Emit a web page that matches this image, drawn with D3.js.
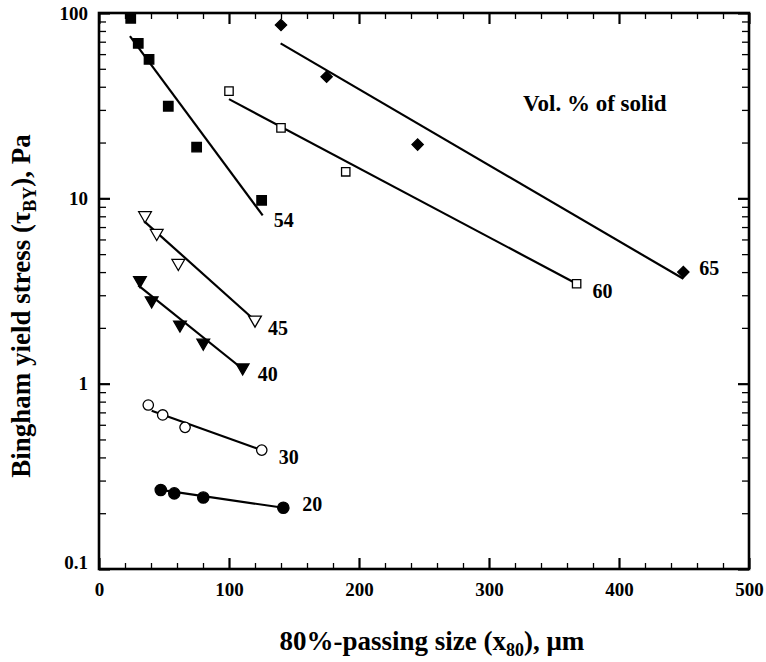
<!DOCTYPE html>
<html>
<head>
<meta charset="utf-8">
<script src="https://cdn.jsdelivr.net/npm/d3@7"></script>
<style>
  html, body { margin: 0; padding: 0; background: #fff; }
  svg { display: block; }
  text { font-family: "Liberation Serif", "Times New Roman", Times, serif; font-weight: bold; fill: #000; }
</style>
</head>
<body>
<svg id="chart" width="766" height="662"></svg>
<script>
// Bingham yield stress vs. 80%-passing size, one series per solids concentration (vol. %)
const xTickValues = [0, 100, 200, 300, 400, 500];
const yTickValues = [0.1, 1, 10, 100];
const yTickLabels = ["0.1", "1", "10", "100"];

const solids = ["20", "30", "40", "45", "54", "60", "65"];
const markers = ["circleFilled", "circleOpen", "triDownFilled", "triDownOpen", "squareFilled", "squareOpen", "diamondFilled"];

// measured points: x80 (µm) and yield stress (Pa)
const x20 = [47.5, 57.9, 80.2, 141.8];
const y20 = [0.267, 0.256, 0.243, 0.214];
const x30 = [37.9, 49.0, 66.2, 125.2];
const y30 = [0.767, 0.678, 0.581, 0.438];
const x40 = [31.5, 40.5, 62.3, 80.2, 110.5];
const y40 = [3.61, 2.81, 2.08, 1.66, 1.22];
const x45 = [35.4, 44.4, 61.0, 120.0];
const y45 = [8.09, 6.49, 4.47, 2.21];
const x54 = [24.4, 30.2, 38.5, 53.3, 75.1, 125.1];
const y54 = [93.6, 68.6, 56.2, 31.4, 18.9, 9.76];
const x60 = [100, 140, 189.8, 367.4];
const y60 = [37.9, 24.0, 13.9, 3.46];
const x65 = [140, 175.1, 245.1, 449.5];
const y65 = [86.1, 45.3, 19.5, 4.0];

// power-law fit lines: [x start, x end] and [y start, y end]
const fitX = [[47.5, 141.8], [40.5, 125.2], [30.2, 110.5], [34.6, 118.5], [23.8, 125.9], [100, 367.4], [139.7, 449.5]];
const fitY = [[0.267, 0.214], [0.714, 0.438], [3.39, 1.20], [7.54, 2.24], [75.1, 8.09], [34.3, 3.46], [68.6, 3.68]];

const xs = [x20, x30, x40, x45, x54, x60, x65];
const ys = [y20, y30, y40, y45, y54, y60, y65];

const svg = d3.select("#chart");
const margin = { left: 99, right: 17, top: 13, bottom: 93 };
const W = 766, H = 662;
const iw = W - margin.left - margin.right;
const ih = H - margin.top - margin.bottom;

const x = d3.scaleLinear().domain([0, 500]).range([0, iw]);
const y = d3.scaleLog().domain([0.1, 100]).range([ih, 0]);

const g = svg.append("g").attr("transform", `translate(${margin.left},${margin.top})`);

// minor ticks
const xMinor = d3.range(0, 501, 20).filter(v => v % 100 !== 0);
const yMinor = y.ticks().filter(v => !yTickValues.some(t => Math.abs(t - v) < 1e-9));

function styleAxis(sel) {
  sel.select(".domain").remove();
  sel.selectAll("line").attr("stroke", "#000").attr("stroke-width", 1.3);
}

// bottom axis (inward ticks)
g.append("g").attr("transform", `translate(0,${ih})`)
  .call(d3.axisBottom(x).tickValues(xMinor).tickSize(-6).tickFormat(""))
  .call(styleAxis);
const xb = g.append("g").attr("transform", `translate(0,${ih})`)
  .call(d3.axisBottom(x).tickValues(xTickValues).tickSizeInner(-11).tickSizeOuter(0).tickPadding(25).tickFormat(d3.format("d")))
  .call(styleAxis);
xb.selectAll("line").attr("stroke-width", 2.2);
xb.selectAll("text").attr("font-size", 19).attr("dy", "0.1em");

// top axis
g.append("g")
  .call(d3.axisTop(x).tickValues(xMinor).tickSize(-6).tickFormat(""))
  .call(styleAxis);
g.append("g")
  .call(d3.axisTop(x).tickValues(xTickValues).tickSize(-11).tickFormat(""))
  .call(styleAxis)
  .selectAll("line").attr("stroke-width", 2.2);

// left axis
g.append("g")
  .call(d3.axisLeft(y).tickValues(yMinor).tickSize(-7).tickFormat(""))
  .call(styleAxis);
const yl = g.append("g")
  .call(d3.axisLeft(y).tickValues(yTickValues).tickSizeInner(-11).tickSizeOuter(0).tickPadding(11)
    .tickFormat((d, i) => yTickLabels[i]))
  .call(styleAxis);
yl.selectAll("line").attr("stroke-width", 2.2);
yl.selectAll("text").attr("font-size", 19)
  .attr("dy", (d, i) => i === 0 ? "-0.05em" : "0.32em");

// right axis
g.append("g").attr("transform", `translate(${iw},0)`)
  .call(d3.axisRight(y).tickValues(yMinor).tickSize(-7).tickFormat(""))
  .call(styleAxis);
g.append("g").attr("transform", `translate(${iw},0)`)
  .call(d3.axisRight(y).tickValues(yTickValues).tickSize(-11).tickFormat(""))
  .call(styleAxis)
  .selectAll("line").attr("stroke-width", 2.2);

// frame
g.append("rect").attr("x", 0).attr("y", 0).attr("width", iw).attr("height", ih)
  .attr("fill", "none").attr("stroke", "#000").attr("stroke-width", 2.6);

// fit lines
solids.forEach((s, i) => {
  g.append("line")
    .attr("x1", x(fitX[i][0])).attr("y1", y(fitY[i][0]))
    .attr("x2", x(fitX[i][1])).attr("y2", y(fitY[i][1]))
    .attr("stroke", "#000").attr("stroke-width", 2.2);
});

// markers
const sym = {
  circleFilled:  { type: d3.symbolCircle,   size: 100, fill: "#000", rot: 0 },
  circleOpen:    { type: d3.symbolCircle,   size: 85,  fill: "#fff", rot: 0 },
  triDownFilled: { type: d3.symbolTriangle, size: 70,  fill: "#000", rot: 180 },
  triDownOpen:   { type: d3.symbolTriangle, size: 70,  fill: "#fff", rot: 180 },
  squareFilled:  { type: d3.symbolSquare,   size: 90,  fill: "#000", rot: 0 },
  squareOpen:    { type: d3.symbolSquare,   size: 70,  fill: "#fff", rot: 0 },
  diamondFilled: { type: d3.symbolSquare,   size: 64,  fill: "#000", rot: 45 }
};

solids.forEach((s, i) => {
  const m = sym[markers[i]];
  const pts = xs[i].map((v, j) => [v, ys[i][j]]);
  g.append("g").selectAll("path").data(pts).join("path")
    .attr("d", d3.symbol().type(m.type).size(m.size))
    .attr("transform", d => `translate(${x(d[0])},${y(d[1])}) rotate(${m.rot})`)
    .attr("fill", m.fill).attr("stroke", "#000").attr("stroke-width", 1.3);
});

// series labels beside the end of each fit
const labelOffset = [[19, -4], [17, 7], [15, 5], [13, 9], [11, 5], [16, 7], [16, -11]];
solids.forEach((s, i) => {
  const lx = Math.max(xs[i][xs[i].length - 1], fitX[i][1]);
  const ly = fitY[i][1];
  g.append("text")
    .attr("x", x(lx) + labelOffset[i][0])
    .attr("y", y(ly) + labelOffset[i][1])
    .attr("dy", "0.35em")
    .attr("font-size", 20)
    .text(s);
});

// legend note
g.append("text").attr("x", 424).attr("y", 98).attr("font-size", 23).text("Vol. % of solid");

// axis titles
const xt = svg.append("text").attr("x", margin.left + x(256)).attr("y", 650)
  .attr("text-anchor", "middle").attr("font-size", 27);
xt.append("tspan").text("80%-passing size (x");
xt.append("tspan").attr("font-size", 18).attr("dy", 6).text("80");
xt.append("tspan").attr("dy", -6).text("), μm");

const yt = svg.append("text")
  .attr("transform", `translate(30,306) rotate(-90)`)
  .attr("text-anchor", "middle").attr("font-size", 27);
yt.append("tspan").text("Bingham yield stress (τ");
yt.append("tspan").attr("font-size", 18).attr("dy", 6).text("BY");
yt.append("tspan").attr("dy", -6).text("), Pa");
</script>
</body>
</html>
